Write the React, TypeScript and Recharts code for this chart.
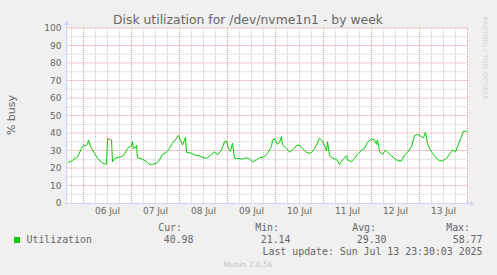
import React from 'react';
import { LineChart, Line, XAxis, YAxis, ReferenceLine, CartesianGrid } from 'recharts';

// time in hours since 05 Jul 00:00
const hours = [16, 18, 19.5, 21, 23, 23.5, 25.5, 26, 26.5, 27.5, 29.5, 31, 33, 34.5, 35.5, 36, 37, 38, 38.5, 39.5, 41, 43, 44.5, 46, 48, 48.5, 49, 50, 50.5, 51, 53.5, 55.5, 57, 58.5, 60.5, 62, 63.5, 65.5, 67, 68.5, 70.5, 71.5, 72.5, 73.5, 75, 75.5, 78, 79.5, 82, 83.5, 85.5, 86, 88, 89.5, 91, 93, 94.5, 95.5, 96.5, 97.5, 98.5, 99.5, 101, 103.5, 105.5, 107, 108.5, 110.5, 112, 114.5, 116, 118, 118.5, 119.5, 121, 122, 123, 123.5, 125.5, 127, 128.5, 130.5, 132, 133.5, 135.5, 137, 138.5, 140.5, 142, 143, 144.5, 145.5, 146, 147, 148.5, 150.5, 152, 153.5, 155.5, 156, 158, 159.5, 161, 163, 164.5, 166, 168, 169.5, 170.5, 171, 172, 173.5, 175, 176, 178, 179.5, 181, 183, 184.5, 186, 188, 189.5, 191, 193, 194, 195, 196, 197, 198.5, 200.5, 202, 203.5, 205.5, 207, 208.5, 210, 211, 213, 214, 215.5, 216];
const busy = [23.0, 24.0, 25.1, 26.3, 31.2, 32.4, 33.1, 33.5, 36.0, 32.2, 28.4, 25.6, 23.2, 22.4, 22.3, 36.6, 36.4, 36.0, 23.6, 25.4, 26.0, 26.5, 27.8, 31.2, 32.8, 35.0, 31.2, 31.5, 33.0, 25.9, 25.1, 23.6, 22.1, 22.1, 22.7, 24.6, 27.8, 29.0, 31.2, 34.1, 37.0, 38.7, 36.0, 33.1, 37.5, 29.0, 28.4, 27.4, 26.9, 26.1, 25.5, 25.9, 27.8, 29.3, 27.4, 30.3, 35.0, 35.4, 31.2, 29.7, 34.1, 25.5, 25.5, 25.1, 25.9, 25.1, 23.6, 24.6, 25.9, 26.5, 28.4, 32.2, 36.0, 36.6, 33.5, 34.7, 37.9, 33.1, 31.2, 29.0, 30.3, 32.8, 33.1, 31.2, 29.0, 28.4, 29.3, 33.1, 37.0, 36.0, 32.8, 29.7, 35.0, 27.4, 25.5, 25.0, 22.1, 24.6, 27.0, 24.6, 23.6, 25.5, 27.8, 30.3, 31.2, 34.7, 36.6, 36.0, 33.5, 36.0, 29.3, 27.8, 30.3, 29.0, 27.0, 25.5, 24.2, 24.0, 27.4, 29.0, 32.2, 38.5, 39.2, 37.9, 37.3, 40.4, 34.1, 31.2, 28.4, 25.5, 24.2, 24.0, 25.5, 27.8, 30.3, 29.3, 32.2, 37.9, 41.1, 40.8, 41.0];

const dayLabels = ['06 Jul', '07 Jul', '08 Jul', '09 Jul', '10 Jul', '11 Jul', '12 Jul', '13 Jul'];
const labelHours = [36, 60, 84, 108, 132, 156, 180, 204];
const midnightHours = [24, 48, 72, 96, 120, 144, 168, 192, 216];
const minorHours = [18, 30, 36, 42, 54, 60, 66, 78, 84, 90, 102, 108, 114, 126, 132, 138, 150, 156, 162, 174, 180, 186, 198, 204, 210];
const yTicks = [0, 10, 20, 30, 40, 50, 60, 70, 80, 90, 100];
const yMinor = [5, 15, 25, 35, 45, 55, 65, 75, 85, 95];
const yMajor = [10, 20, 30, 40, 50, 60, 70, 80, 90, 100];

const title = 'Disk utilization for /dev/nvme1n1 - by week';
const yLabel = '% busy';
const seriesName = 'Utilization';
const legendHeaders = ['Cur:', 'Min:', 'Avg:', 'Max:'];
const legendValues = ['40.98', '21.14', '29.30', '58.77'];
const lastUpdate = 'Last update: Sun Jul 13 23:30:03 2025';
const version = 'Munin 2.0.56';
const watermark = 'RRDTOOL / TOBI OETIKER';

const W = 497;
const H = 275;
const PL = 67;
const PT = 28;
const PR = 467;
const PB = 203;
const GRID = '#C8C8C8';
const MGRID = '#E89595';
const AXIS = '#CFD6F8';
const FONT = '#666666';
const GREEN = '#00CC00';

const data = hours.map((h, i) => ({ h, v: busy[i] }));

const labelFor = (h: number) => {
  const i = labelHours.indexOf(h);
  return i >= 0 ? dayLabels[i] : '';
};

const headerEnds = [182, 279, 376, 470];
const valueEnds = [193.5, 290.5, 386.5, 482.5];

export default function App() {
  return (
    <div style={{ position: 'absolute', left: 0, top: 0, width: W, height: H, background: '#F0F0F0' }}>
      <LineChart
        width={W}
        height={H}
        data={data}
        margin={{ top: PT, right: W - PR - 0.5, bottom: H - PB - 20, left: 0.5 }}
      >
        <CartesianGrid horizontal={false} vertical={false} fill="#FFFFFF" />
        {minorHours.map((h) => (
          <ReferenceLine key={'mx' + h} x={h} stroke={GRID} strokeDasharray="1 1" strokeWidth={1} />
        ))}
        {yMinor.map((y) => (
          <ReferenceLine key={'my' + y} y={y} stroke={GRID} strokeDasharray="1 1" strokeWidth={1} />
        ))}
        {midnightHours.map((h) => (
          <ReferenceLine key={'Mx' + h} x={h} stroke={MGRID} strokeDasharray="1 1" strokeWidth={1} />
        ))}
        {yMajor.map((y) => (
          <ReferenceLine key={'My' + y} y={y} stroke={MGRID} strokeDasharray="1 1" strokeWidth={1} />
        ))}
        <XAxis
          dataKey="h"
          type="number"
          domain={[16, 216]}
          ticks={labelHours}
          tickFormatter={labelFor}
          axisLine={false}
          tickLine={false}
          tickSize={0}
          tickMargin={5}
          height={20}
          tick={{ fill: FONT, fontSize: 9, fontFamily: 'DejaVu Sans' }}
          allowDataOverflow
        />
        <YAxis
          type="number"
          domain={[0, 100]}
          ticks={yTicks}
          axisLine={false}
          tickLine={false}
          tickSize={0}
          tickMargin={6}
          width={PL}
          interval={0}
          tick={{ fill: FONT, fontSize: 9, fontFamily: 'DejaVu Sans' }}
        />
        <Line
          dataKey="v"
          type="linear"
          stroke={GREEN}
          strokeWidth={1}
          dot={false}
          isAnimationActive={false}
        />
      </LineChart>
      <svg width={W} height={H} style={{ position: 'absolute', left: 0, top: 0, pointerEvents: 'none' }}>
        <line x1={PL - 3} y1={PB + 0.5} x2={PR + 4} y2={PB + 0.5} stroke={AXIS} strokeWidth={1} />
        <polygon points={`${PR + 3},${PB - 2.5} ${PR + 3},${PB + 3.5} ${PR + 7},${PB + 0.5}`} fill={AXIS} />
        <line x1={PL - 0.5} y1={PB + 3} x2={PL - 0.5} y2={PT - 4} stroke={AXIS} strokeWidth={1} />
        <polygon points={`${PL - 3.5},${PT - 3} ${PL + 2.5},${PT - 3} ${PL - 0.5},${PT - 7}`} fill={AXIS} />
        <text x={248} y={24} textAnchor="middle" fontFamily="DejaVu Sans" fontSize={12.4} fill={FONT}>
          {title}
        </text>
        <text
          x={14.5}
          y={115}
          textAnchor="middle"
          fontFamily="DejaVu Sans"
          fontSize={11}
          fill={FONT}
          transform="rotate(-90 14.5 115)"
        >
          {yLabel}
        </text>
        <text
          x={483}
          y={58}
          textAnchor="middle"
          fontFamily="DejaVu Sans"
          fontSize={6.5}
          fill="#D0D0D0"
          transform="rotate(90 483 58)"
        >
          {watermark}
        </text>
        <g fontFamily="DejaVu Sans Mono" fontSize={9.9} fill={FONT}>
          {legendHeaders.map((t, i) => (
            <text key={t} x={headerEnds[i]} y={231} textAnchor="end">
              {t}
            </text>
          ))}
          <rect x={14} y={237} width={6} height={6} fill={GREEN} />
          <text x={26.5} y={243}>
            {seriesName}
          </text>
          {legendValues.map((t, i) => (
            <text key={'v' + i} x={valueEnds[i]} y={243} textAnchor="end">
              {t}
            </text>
          ))}
          <text x={482.5} y={255} textAnchor="end">
            {lastUpdate}
          </text>
        </g>
        <text x={248} y={266.5} textAnchor="middle" fontFamily="DejaVu Sans" fontSize={7.5} fill="#C4C4C4">
          {version}
        </text>
      </svg>
    </div>
  );
}
